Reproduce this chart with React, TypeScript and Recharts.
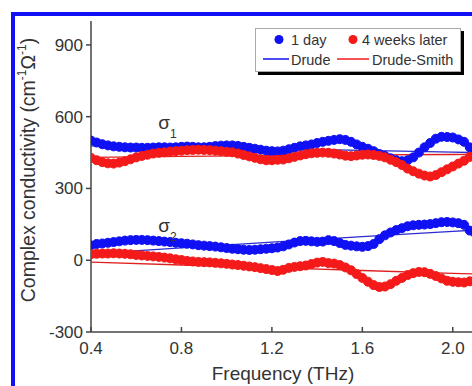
import React from 'react'
import { LineChart, Line, XAxis, YAxis, ReferenceDot } from 'recharts'

// measured frequencies (THz)
const freq = [
  0.4, 0.425, 0.45, 0.475, 0.5, 0.525, 0.55, 0.575, 0.6, 0.625, 0.65, 0.675, 0.7, 0.725,
  0.75, 0.775, 0.8, 0.825, 0.85, 0.875, 0.9, 0.925, 0.95, 0.975, 1.0, 1.025, 1.05, 1.075,
  1.1, 1.125, 1.15, 1.175, 1.2, 1.225, 1.25, 1.275, 1.3, 1.325, 1.35, 1.375, 1.4, 1.425,
  1.45, 1.475, 1.5, 1.525, 1.55, 1.575, 1.6, 1.625, 1.65, 1.675, 1.7, 1.725, 1.75, 1.775,
  1.8, 1.825, 1.85, 1.875, 1.9, 1.925, 1.95, 1.975, 2.0, 2.025, 2.05, 2.075, 2.1,
]

// sigma_1, 1 day
const day1Real = [
  500, 492, 485, 480, 476, 474, 472, 471, 471, 470, 470, 471, 472, 472,
  471, 472, 474, 475, 474, 472, 472, 474, 477, 479, 480, 480, 478, 474,
  470, 466, 462, 458, 456, 455, 458, 464, 470, 476, 480, 484, 490, 495,
  499, 503, 506, 503, 495, 484, 474, 466, 456, 444, 436, 426, 418, 414,
  418, 430, 450, 472, 490, 508, 516, 515, 513, 505, 495, 472, 455,
]

// sigma_1, 4 weeks later
const weeksReal = [
  428, 418, 410, 405, 404, 408, 414, 422, 430, 436, 441, 446, 449, 451,
  454, 456, 458, 460, 461, 462, 461, 460, 458, 456, 453, 451, 446, 440,
  434, 428, 422, 418, 418, 420, 421, 426, 432, 438, 443, 447, 449, 450,
  449, 446, 442, 437, 435, 438, 441, 442, 440, 436, 430, 420, 410, 398,
  383, 372, 362, 354, 350, 356, 368, 380, 392, 404, 416, 432, 440,
]

// sigma_2, 1 day
const day1Imag = [
  62, 68, 70, 73, 76, 79, 82, 84, 85, 85, 84, 82, 80, 78,
  76, 73, 71, 69, 66, 63, 61, 59, 57, 54, 51, 48, 46, 44,
  43, 44, 46, 48, 50, 53, 58, 66, 74, 80, 81, 79, 77, 78,
  84, 80, 72, 64, 61, 58, 56, 59, 68, 88, 104, 116, 126, 134,
  142, 146, 148, 149, 151, 155, 159, 160, 158, 155, 148, 124, 112,
]

// sigma_2, 4 weeks later
const weeksImag = [
  25, 27, 28, 28, 29, 28, 27, 25, 22, 20, 18, 16, 14, 11,
  8, 4, 1, -3, -5, -7, -8, -9, -11, -13, -15, -18, -20, -23,
  -26, -29, -33, -37, -41, -45, -40, -32, -28, -25, -22, -16, -10, -7,
  -12, -14, -20, -30, -42, -58, -74, -90, -104, -112, -110, -100, -86, -74,
  -62, -54, -49, -50, -57, -66, -76, -86, -90, -92, -93, -88, -84,
]

// model fits
const fitFreq = [0.4, 0.8, 1.2, 1.6, 2.0, 2.2]
const drudeReal = [478, 472, 466, 459, 452, 448]
const drudeImag = [28, 52, 76, 99, 121, 131]
const smithReal = [430, 434, 437, 440, 442, 443]
const smithImag = [-8, -20, -31, -43, -55, -60]

const xTicks = [0.4, 0.8, 1.2, 1.6, 2.0]
const yTicks = [-300, 0, 300, 600, 900]

const BLUE = '#1010f4'
const RED = '#f51a1a'
const AXIS = '#444'
const TEXT = '#333'
const FONT = '"Liberation Sans", Arial, sans-serif'

const measured = freq.map((f, i) => ({
  f,
  b1: day1Real[i],
  r1: weeksReal[i],
  b2: day1Imag[i],
  r2: weeksImag[i],
}))

const fits = fitFreq.map((f, i) => ({
  f,
  d1: drudeReal[i],
  d2: drudeImag[i],
  s1: smithReal[i],
  s2: smithImag[i],
}))

const XTick = (props: any) => {
  const { x, y, payload } = props
  return (
    <g>
      <line x1={x} x2={x} y1={y} y2={y - 5} stroke={AXIS} strokeWidth={1.5} />
      <text x={x} y={y + 22} textAnchor="middle" fontSize={17} fill={TEXT} fontFamily={FONT}>
        {Number(payload.value).toFixed(1)}
      </text>
    </g>
  )
}

const YTick = (props: any) => {
  const { x, y, payload } = props
  return (
    <g>
      <line x1={x} x2={x - 5} y1={y} y2={y} stroke={AXIS} strokeWidth={1.5} />
      <text x={x - 8} y={y + 6} textAnchor="end" fontSize={17} fill={TEXT} fontFamily={FONT}>
        {payload.value}
      </text>
    </g>
  )
}

const sigmaLabel = (sub: string) => (props: any) => {
  const { viewBox } = props
  return (
    <text x={viewBox.x - 5} y={viewBox.y} fontSize={19} fill={TEXT} fontFamily={FONT}>
      σ
      <tspan fontSize={12} dy={9}>
        {sub}
      </tspan>
    </text>
  )
}

const Legend = () => (
  <div
    style={{
      position: 'absolute',
      left: 255,
      top: 28,
      width: 204,
      height: 42,
      background: '#fff',
      border: '1px solid #aaa',
      boxShadow: '3px 3px 0 #000',
    }}
  >
    <svg width={204} height={42} style={{ display: 'block' }} fontFamily={FONT}>
      <circle cx={23} cy={10.5} r={4.5} fill={BLUE} />
      <text x={35} y={15.5} fontSize={14.5} fill={TEXT}>1 day</text>
      <circle cx={97} cy={10.5} r={4.5} fill={RED} />
      <text x={106} y={15.5} fontSize={14.5} fill={TEXT}>4 weeks later</text>
      <line x1={7} x2={33} y1={30} y2={30} stroke={BLUE} strokeWidth={1.5} />
      <text x={35} y={35.5} fontSize={14.5} fill={TEXT}>Drude</text>
      <line x1={81} x2={113} y1={30} y2={30} stroke={RED} strokeWidth={1.5} />
      <text x={116} y={35.5} fontSize={14.5} fill={TEXT}>Drude-Smith</text>
    </svg>
  </div>
)

export default function App() {
  const dotStyle = (c: string) => ({ r: 4.5, fill: c, stroke: c, strokeWidth: 1 })
  return (
    <div
      style={{
        position: 'absolute',
        left: 0,
        top: 0,
        width: 472,
        height: 386,
        overflow: 'hidden',
        background: '#fff',
      }}
    >
      <div
        style={{
          position: 'absolute',
          left: 11,
          top: 12,
          width: 520,
          height: 420,
          border: `4px solid ${BLUE}`,
          boxSizing: 'border-box',
        }}
      />
      <div style={{ position: 'absolute', left: 0, top: 0 }}>
        <LineChart width={520} height={386} margin={{ top: 21, right: 22, bottom: 0, left: 0 }}>
          <XAxis
            dataKey="f"
            type="number"
            domain={[0.4, 2.2]}
            ticks={xTicks}
            tick={XTick}
            tickSize={0}
            tickMargin={0}
            tickLine={false}
            height={54}
            axisLine={{ stroke: AXIS, strokeWidth: 1.5 }}
            allowDataOverflow
            label={() => (
              <text x={283} y={380} textAnchor="middle" fontSize={19} fill={TEXT} fontFamily={FONT}>
                Frequency (THz)
              </text>
            )}
          />
          <XAxis
            xAxisId="top"
            orientation="top"
            dataKey="f"
            type="number"
            domain={[0.4, 2.2]}
            height={0}
            tick={false}
            tickLine={false}
            axisLine={{ stroke: AXIS, strokeWidth: 1.5 }}
          />
          <YAxis
            type="number"
            domain={[-300, 1000]}
            ticks={yTicks}
            tick={YTick}
            tickSize={0}
            tickMargin={0}
            tickLine={false}
            width={91}
            axisLine={{ stroke: AXIS, strokeWidth: 1.5 }}
            allowDataOverflow
            label={() => (
              <text
                x={30}
                y={170}
                transform="rotate(-90 30 170)"
                textAnchor="middle"
                dominantBaseline="middle"
                fontSize={19.5}
                fill={TEXT}
                fontFamily={FONT}
              >
                Complex conductivity (cm
                <tspan fontSize={12} dy={-7}>-1</tspan>
                <tspan dy={7}>Ω</tspan>
                <tspan fontSize={12} dy={-7}>-1</tspan>
                <tspan dy={7}>)</tspan>
              </text>
            )}
          />
          <Line data={measured} dataKey="b1" stroke={BLUE} strokeWidth={3} dot={dotStyle(BLUE)} activeDot={false} isAnimationActive={false} />
          <Line data={measured} dataKey="b2" stroke={BLUE} strokeWidth={3} dot={dotStyle(BLUE)} activeDot={false} isAnimationActive={false} />
          <Line data={measured} dataKey="r1" stroke={RED} strokeWidth={3} dot={dotStyle(RED)} activeDot={false} isAnimationActive={false} />
          <Line data={measured} dataKey="r2" stroke={RED} strokeWidth={3} dot={dotStyle(RED)} activeDot={false} isAnimationActive={false} />
          <Line data={fits} dataKey="d1" stroke="#2b2bd0" strokeWidth={1.3} dot={false} activeDot={false} isAnimationActive={false} />
          <Line data={fits} dataKey="d2" stroke="#2b2bd0" strokeWidth={1.3} dot={false} activeDot={false} isAnimationActive={false} />
          <Line data={fits} dataKey="s1" stroke="#e02020" strokeWidth={1.3} dot={false} activeDot={false} isAnimationActive={false} />
          <Line data={fits} dataKey="s2" stroke="#e02020" strokeWidth={1.3} dot={false} activeDot={false} isAnimationActive={false} />
          <ReferenceDot x={0.72} y={550} r={0} fill="none" stroke="none" label={sigmaLabel('1')} />
          <ReferenceDot x={0.72} y={119} r={0} fill="none" stroke="none" label={sigmaLabel('2')} />
        </LineChart>
      </div>
      <Legend />
    </div>
  )
}
